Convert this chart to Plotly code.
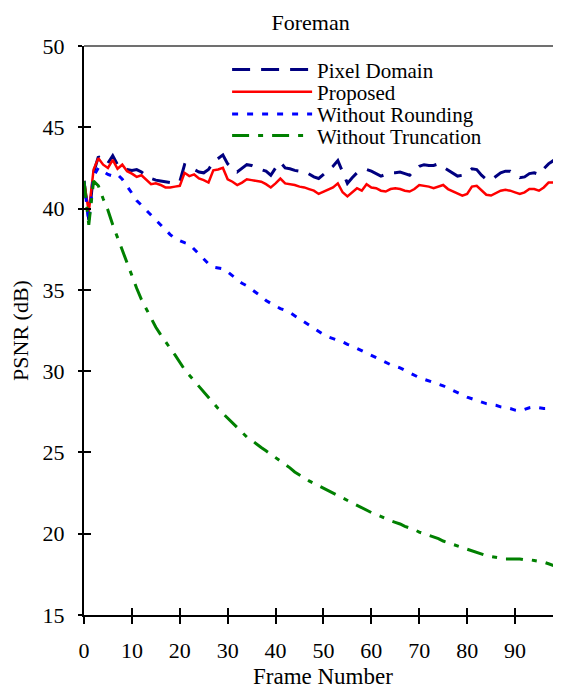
import plotly.graph_objects as go

frames = list(range(100))

pixel_domain = [41.7, 39.3, 42.2, 43.2, 42.85, 42.8, 43.25, 42.7, 42.65, 42.4,
                42.35, 42.4, 42.25, 42.0, 41.85, 41.75, 41.7, 41.65, 41.6, 41.6,
                41.65, 42.7, 42.6, 42.4, 42.25, 42.2, 42.4, 42.85, 43.1, 43.3,
                42.75, 42.45, 42.25, 42.5, 42.7, 42.65, 42.5, 42.4, 42.3, 42.05,
                42.5, 42.85, 42.5, 42.45, 42.35, 42.3, 42.3, 42.1, 41.95, 41.85,
                42.1, 42.3, 42.6, 42.95, 42.2, 41.55, 41.9, 42.2, 42.3, 42.4,
                42.3, 42.15, 42.0, 42.1, 42.2, 42.2, 42.25, 42.15, 42.05, 42.35,
                42.6, 42.7, 42.65, 42.65, 42.75, 42.55, 42.35, 42.15, 42.0, 42.05,
                42.2, 42.45, 42.4, 42.05, 41.8, 41.75, 41.95, 42.2, 42.3, 42.3,
                42.1, 41.9, 41.95, 42.15, 42.2, 42.1, 42.45, 42.75, 42.95, 42.95]

proposed = [41.7, 39.8, 42.4, 43.1, 42.7, 42.5, 43.0, 42.45, 42.7, 42.3,
            42.15, 41.95, 42.05, 41.75, 41.5, 41.55, 41.45, 41.3, 41.3, 41.35,
            41.4, 42.2, 42.0, 42.1, 41.85, 41.75, 41.6, 42.35, 42.4, 42.5,
            41.8, 41.65, 41.45, 41.6, 41.8, 41.75, 41.7, 41.65, 41.5, 41.3,
            41.55, 41.85, 41.55, 41.5, 41.45, 41.35, 41.3, 41.2, 41.1, 40.9,
            41.05, 41.15, 41.3, 41.55, 41.0, 40.75, 41.0, 41.25, 41.1, 41.5,
            41.3, 41.25, 41.1, 41.05, 41.2, 41.25, 41.2, 41.1, 41.05, 41.2,
            41.45, 41.4, 41.35, 41.25, 41.35, 41.45, 41.2, 41.05, 40.9, 40.8,
            40.9, 41.35, 41.4, 41.1, 40.85, 40.8, 40.95, 41.1, 41.15, 41.1,
            41.0, 40.9, 41.0, 41.2, 41.2, 41.1, 41.3, 41.6, 41.6, 41.55]

without_rounding = [41.7, 39.2, 42.0, 42.5, 42.3, 42.1, 42.0, 42.1, 41.8, 41.4,
                    40.95, 40.5, 40.2, 39.9, 39.6, 39.3, 39.0, 38.65, 38.4, 38.15,
                    38.0, 37.9, 37.8, 37.5, 37.2, 36.9, 36.6, 36.4, 36.35, 36.3,
                    36.1, 35.85, 35.6, 35.4, 35.25, 35.05, 34.8, 34.6, 34.35, 34.15,
                    34.0, 33.85, 33.75, 33.6, 33.4, 33.2, 33.0, 32.8, 32.6, 32.4,
                    32.25, 32.1, 32.0, 31.9, 31.8, 31.65, 31.55, 31.4, 31.25, 31.1,
                    30.95, 30.8, 30.65, 30.5, 30.4, 30.3, 30.2, 30.05, 29.9, 29.7,
                    29.6, 29.5, 29.4, 29.3, 29.2, 29.1, 28.95, 28.8, 28.7, 28.55,
                    28.4, 28.3, 28.2, 28.1, 28.0, 27.95, 27.9, 27.8, 27.75, 27.7,
                    27.6, 27.55, 27.65, 27.75, 27.8, 27.75, 27.7, 27.7, 27.65, 27.6]

without_truncation = [41.7, 39.0, 41.7, 41.4, 40.6, 39.9, 39.0, 38.2, 37.4, 36.6,
                      35.8, 35.1, 34.4, 33.8, 33.25, 32.7, 32.25, 31.8, 31.4, 31.0,
                      30.55, 30.1, 29.75, 29.4, 29.05, 28.7, 28.35, 28.05, 27.7, 27.4,
                      27.1, 26.8, 26.5, 26.2, 25.95, 25.75, 25.5, 25.3, 25.1, 24.9,
                      24.7, 24.5, 24.3, 24.05, 23.8, 23.6, 23.4, 23.25, 23.1, 22.95,
                      22.8, 22.65, 22.5, 22.35, 22.2, 22.0, 21.85, 21.75, 21.6, 21.45,
                      21.3, 21.2, 21.05, 20.95, 20.8, 20.7, 20.6, 20.45, 20.35, 20.25,
                      20.1, 20.0, 19.9, 19.8, 19.7, 19.55, 19.45, 19.35, 19.25, 19.15,
                      19.05, 18.95, 18.85, 18.75, 18.65, 18.6, 18.55, 18.5, 18.45, 18.45,
                      18.45, 18.45, 18.4, 18.4, 18.35, 18.3, 18.25, 18.15, 18.05, 17.95]

x_ticks = [0, 10, 20, 30, 40, 50, 60, 70, 80, 90]
y_ticks = [15, 20, 25, 30, 35, 40, 45, 50]

FONT = "Liberation Serif, Times New Roman, serif"

fig = go.Figure()
fig.add_trace(go.Scatter(x=frames, y=pixel_domain, mode="lines", name="Pixel Domain",
                         legend="legend",
                         line=dict(color="#000080", width=3, dash="18px,11px")))
fig.add_trace(go.Scatter(x=frames, y=proposed, mode="lines", name="Proposed",
                         legend="legend2",
                         line=dict(color="#FF0000", width=2.5)))
fig.add_trace(go.Scatter(x=frames, y=without_rounding, mode="lines", name="Without Rounding",
                         legend="legend3",
                         line=dict(color="#0000FF", width=3, dash="6px,9px")))
fig.add_trace(go.Scatter(x=frames, y=without_truncation, mode="lines", name="Without Truncation",
                         legend="legend4",
                         line=dict(color="#008000", width=3, dash="17px,9px,5px,9px")))
# dummy trace for overlay axes (inner tick marks)
fig.add_trace(go.Scatter(x=[None], y=[None], xaxis="x2", yaxis="y2", showlegend=False,
                         hoverinfo="skip"))

xr = [0, 99.6]
yr = [15, 50]

def leg(y):
    return dict(x=0.300, xanchor="left", y=y, yanchor="middle",
                bgcolor="rgba(0,0,0,0)", borderwidth=0, itemwidth=80,
                font=dict(size=21))

fig.update_layout(
    width=553, height=681,
    margin=dict(l=76, r=0, t=38, b=74, autoexpand=False),
    paper_bgcolor="white", plot_bgcolor="white",
    font=dict(family=FONT, color="black", size=22),
    title=dict(text="Foreman", x=0.475, xref="paper", y=0.991, yref="container",
               yanchor="top", xanchor="center", font=dict(size=22),
               pad=dict(t=0, b=0)),
    showlegend=True,
    legend=leg(0.958),
    legend2=leg(0.919),
    legend3=leg(0.880),
    legend4=leg(0.842),
    xaxis=dict(range=xr, tickvals=x_ticks, ticks="outside", ticklen=7, tickwidth=1.5,
               tickcolor="black", showline=True, linecolor="black", linewidth=2,
               showgrid=False, zeroline=False, tickfont=dict(size=22),
               ticklabelstandoff=8, automargin=False),
    yaxis=dict(range=yr, tickvals=y_ticks, ticks="outside", ticklen=4, tickwidth=1.5,
               tickcolor="black", showline=True, linecolor="black", linewidth=2,
               showgrid=False, zeroline=False, tickfont=dict(size=22),
               ticklabelstandoff=9, automargin=False,
               title=dict(text="PSNR (dB)", font=dict(size=22), standoff=12)),
    xaxis2=dict(range=xr, tickvals=x_ticks, ticks="inside", ticklen=7, tickwidth=1.5,
                tickcolor="black", showticklabels=False, showline=False, showgrid=False,
                zeroline=False, overlaying="x", anchor="y2", side="bottom",
                automargin=False),
    yaxis2=dict(range=yr, tickvals=y_ticks, ticks="inside", ticklen=7, tickwidth=1.5,
                tickcolor="black", showticklabels=False, showline=False, showgrid=False,
                zeroline=False, overlaying="y", anchor="x2", side="left",
                automargin=False),
    annotations=[dict(text="Frame Number", xref="paper", yref="paper", x=0.5, y=-0.108,
                      xanchor="center", yanchor="middle", showarrow=False,
                      font=dict(size=23))],
    shapes=[dict(type="line", xref="paper", yref="paper", x0=0, x1=1, y0=1, y1=1,
                 line=dict(color="#707070", width=2))],
)

fig.write_html("out.html")
